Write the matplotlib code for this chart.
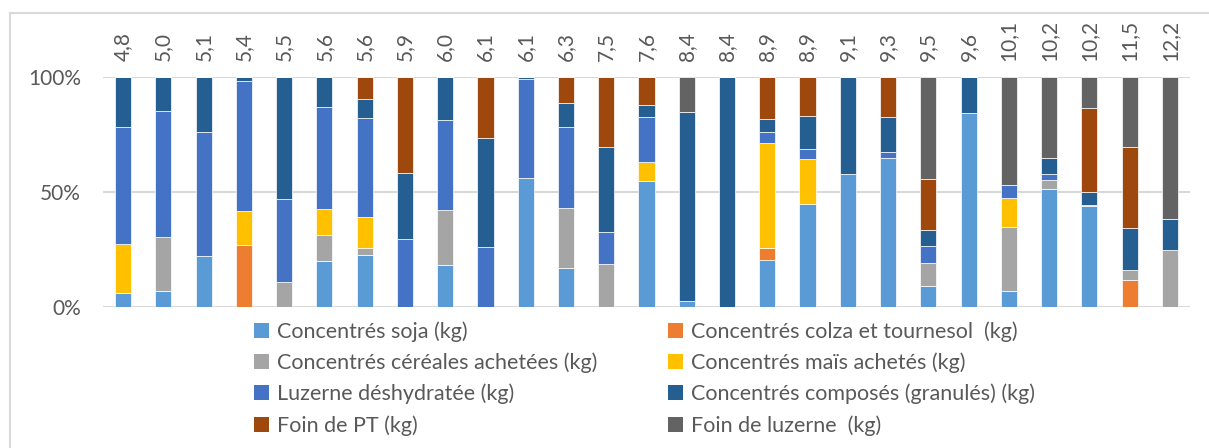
import matplotlib
matplotlib.use("Agg")
import matplotlib.pyplot as plt
from matplotlib.lines import Line2D
from matplotlib.patches import Patch
import numpy as np

# values above each bar (rotated labels)
bar_labels = ["4,8", "5,0", "5,1", "5,4", "5,5", "5,6", "5,6", "5,9", "6,0", "6,1",
              "6,1", "6,3", "7,5", "7,6", "8,4", "8,4", "8,9", "8,9", "9,1", "9,3",
              "9,5", "9,6", "10,1", "10,2", "10,2", "11,5", "12,2"]

series_names = [
    "Concentrés soja (kg)",
    "Concentrés colza et tournesol  (kg)",
    "Concentrés céréales achetées (kg)",
    "Concentrés maïs achetés (kg)",
    "Luzerne déshydratée (kg)",
    "Concentrés composés (granulés) (kg)",
    "Foin de PT (kg)",
    "Foin de luzerne  (kg)",
]

# shares in % of each bar
soja = [6.0, 7.0, 22.3, 0, 0, 20.1, 22.5, 0, 18.3, 0, 55.9, 17.1, 0, 54.8, 2.8, 0,
        20.3, 44.6, 57.7, 64.6, 9.1, 84.5, 7.1, 51.3, 44.1, 0, 0]
colza = [0, 0, 0, 27.1, 0, 0, 0, 0, 0, 0, 0, 0, 0, 0, 0, 0,
         5.4, 0, 0, 0, 0, 0, 0, 0, 0, 11.7, 0]
cereales = [0, 23.6, 0, 0, 10.7, 11.0, 3.2, 0, 24.0, 0, 0, 25.9, 18.6, 0, 0, 0,
            0, 0, 0, 0, 9.9, 0, 27.7, 3.9, 0.4, 4.2, 24.6]
mais = [21.4, 0, 0, 14.5, 0, 11.4, 13.6, 0, 0, 0, 0, 0, 0, 8.1, 0, 0,
        45.6, 19.7, 0, 0, 0, 0, 12.7, 0, 0, 0, 0]
luzerne = [51.0, 54.8, 53.6, 56.8, 36.4, 44.2, 43.0, 29.6, 39.1, 26.2, 43.1, 35.4, 14.2, 19.9, 0, 0,
           4.6, 4.2, 0, 2.6, 7.4, 0, 5.4, 2.5, 0, 0, 0]
composes = [21.6, 14.6, 24.1, 1.6, 52.9, 13.2, 8.1, 28.5, 18.6, 47.3, 1.0, 10.3, 36.8, 4.9, 82.0, 100.0,
            6.0, 14.6, 42.3, 15.4, 7.2, 15.5, 0, 7.2, 5.4, 18.6, 13.7]
foin_pt = [0, 0, 0, 0, 0, 0, 9.6, 41.9, 0, 26.5, 0, 11.3, 30.4, 12.3, 0, 0,
           18.1, 16.8, 0, 17.4, 21.9, 0, 0, 0, 36.6, 35.1, 0]
foin_luzerne = [0, 0, 0, 0, 0, 0, 0, 0, 0, 0, 0, 0, 0, 0, 15.2, 0,
                0, 0, 0, 0, 44.5, 0, 47.1, 35.1, 13.5, 30.4, 61.7]

colors = ["#5B9BD5", "#ED7D31", "#A5A5A5", "#FFC000",
          "#4472C4", "#255E91", "#9E480E", "#636363"]

TEXT = "#595959"
GRID = "#D9D9D9"

plt.rcParams["font.family"] = ["Lato", "DejaVu Sans"]

fig = plt.figure(figsize=(12.09, 4.48), dpi=100)
ax = fig.add_axes([103 / 1209, 1 - 307 / 448, (1190 - 103) / 1209, (307 - 77) / 448])

data = np.array([soja, colza, cereales, mais, luzerne, composes, foin_pt, foin_luzerne])
totals = data.sum(axis=0)
shares = data / totals
x = np.arange(len(bar_labels))
bottom = np.zeros(len(bar_labels))
handles = []
for vals, name, col in zip(shares, series_names, colors):
    ax.bar(x, vals, width=0.4, bottom=bottom, color=col, edgecolor="white",
           linewidth=0.5, zorder=3)
    bottom += vals
    handles.append(Patch(facecolor=col, edgecolor="none", label=name))

ax.set_xlim(-0.5, len(bar_labels) - 0.5)
ax.set_ylim(0, 1)
ax.set_yticks([0, 0.5, 1])
ax.set_yticklabels(["0%", "50%", "100%"])
ax.set_xticks([])
ax.tick_params(axis="y", length=0, labelsize=15, labelcolor=TEXT, pad=16)
for s in ax.spines.values():
    s.set_visible(False)
ax.grid(axis="y", color=GRID, linewidth=1.5, zorder=0)

for xi, lab in zip(x, bar_labels):
    ax.text(xi, 1.07, lab, rotation=90, ha="center", va="bottom", fontsize=15,
            color=TEXT, transform=ax.get_xaxis_transform())

order = [0, 2, 4, 6, 1, 3, 5, 7]
fig.legend([handles[i] for i in order], [series_names[i] for i in order],
           ncol=2, loc="upper left", bbox_to_anchor=(254 / 1209, 1 - 321 / 448),
           frameon=False, fontsize=15.5, labelcolor=TEXT, handlelength=0.7,
           handleheight=0.7, handletextpad=0.35, columnspacing=3.3,
           labelspacing=0.5, borderpad=0, borderaxespad=0)

# outer chart frame (left and top edges visible)
fig.add_artist(Line2D([10 / 1209, 10 / 1209], [0, 1 - 13 / 448], color=GRID,
                      linewidth=1.5, transform=fig.transFigure))
fig.add_artist(Line2D([10 / 1209, 1], [1 - 13 / 448, 1 - 13 / 448], color=GRID,
                      linewidth=1.5, transform=fig.transFigure))

fig.savefig("out.png", dpi=100, facecolor="white")
